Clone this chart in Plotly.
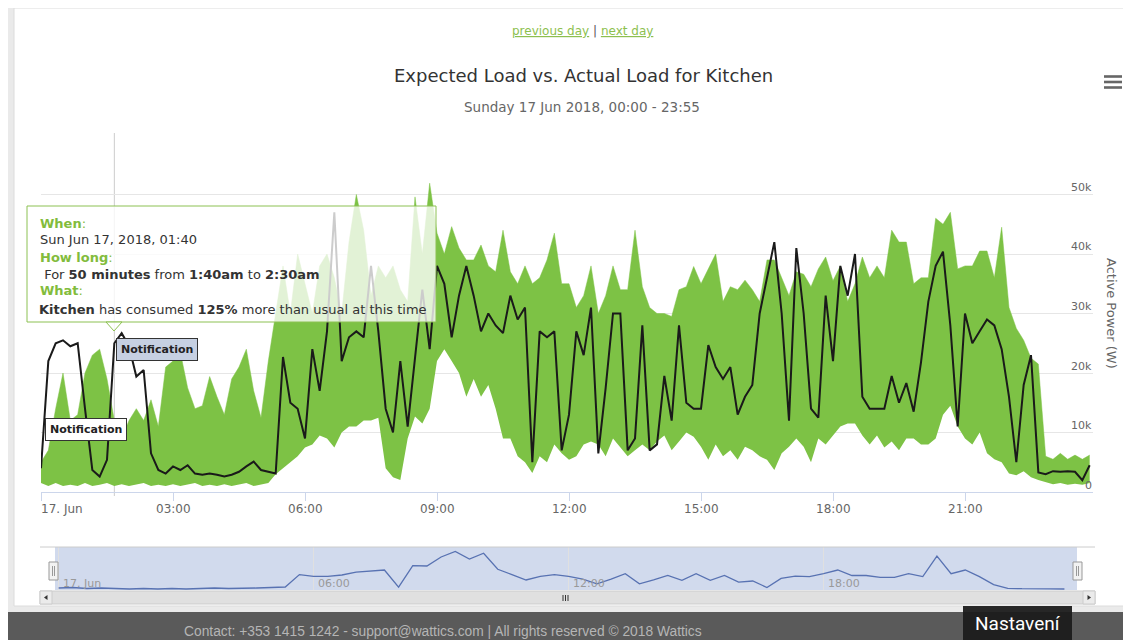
import plotly.graph_objects as go
import pandas as pd

# The page body keeps an 8px margin, so the figure is drawn 8px in from the
# top-left corner of the window; all pixel positions below are window pixels.
OFF = 8
W, H = 1131 - OFF, 640 - OFF

# ---------------- data (kW) ----------------
times = pd.date_range("2018-06-17 00:00", periods=144, freq="10min")

actual_kw = [4, 22, 25, 25.5, 24.5, 25, 14, 3.7, 2.6, 5.4,
             25, 26.7, 24.5, 19.4, 20.5, 6.5, 3.7, 3.1, 4.3, 3.7,
             4.5, 3.1, 2.9, 3.1, 2.9, 2.6, 2.9, 3.4, 4.3, 5.1,
             3.7, 3.4, 3.1, 22.7, 15, 14, 9, 24, 17, 27,
             47, 22, 26, 27, 26, 38, 27, 14, 10, 22,
             11, 22.5, 34, 24, 38, 35, 26, 33, 38, 33,
             27, 30, 28, 26.7, 33, 29, 31, 5, 27, 26,
             27, 7, 13, 27, 23, 31, 6.5, 17.5, 30, 30,
             7, 9, 28, 7, 8, 19.5, 12, 28, 15, 14,
             14, 24.7, 21, 19, 21, 13, 16, 18, 30, 36,
             42, 30, 12, 41, 30, 14, 12.5, 33, 22, 38,
             33, 40, 16, 14, 14, 14, 19.5, 15, 18.3, 13.5,
             21.8, 32, 38, 40.4, 28, 11, 30, 25, 27, 29,
             28, 24, 16, 5, 18, 23, 3.3, 3, 3.5, 3.4,
             3.5, 3.4, 2, 4.5]

expected_high_kw = [5, 7, 14, 20, 12, 13, 20, 23, 24, 19,
                    12, 9, 12, 14, 12, 15.5, 11, 21, 22, 23.5,
                    17.5, 14, 14.5, 19.4, 16, 13, 19, 21, 24, 17,
                    12.5, 22, 30, 38, 30, 40, 35, 30, 38, 40,
                    36, 30, 42, 50, 44, 33, 38, 36, 38, 34,
                    32, 49.6, 40, 51.9, 43.5, 40, 44.6, 41, 39, 39,
                    41.5, 38, 37, 44, 37, 35, 38, 35, 36, 39,
                    43.5, 35, 35, 31, 33, 38, 30, 33, 38, 34,
                    34, 44, 34.5, 31, 30, 30, 29.5, 34, 34.5, 37.9,
                    35, 37.5, 40, 32, 34.5, 34, 35.6, 34, 32, 39,
                    39, 36, 33, 37, 36.6, 34.5, 37.5, 39.5, 35.5, 38,
                    32, 35, 39.5, 36, 38, 36, 44, 42, 42, 35,
                    36, 36, 46, 45, 47, 37.5, 38, 38, 40.5, 40.5,
                    36, 44.5, 31, 27.5, 25.5, 22.5, 21.5, 6, 5.5, 6.5,
                    5.5, 6.2, 5.5, 6.2]

expected_low_kw = [1.5, 1, 1.5, 1, 1.2, 1, 1.5, 1, 1.2, 1.5,
                   1, 1.3, 1, 1.2, 1.5, 1, 1.2, 1, 1.3, 1,
                   1.2, 1.5, 1, 1.2, 1, 1.3, 1, 1.2, 1.5, 1,
                   1.3, 1.5, 3, 4, 5, 6, 7.5, 8, 9.5, 9,
                   7.5, 10, 11, 11, 12, 12, 12.5, 4, 2.5, 2,
                   9, 12.7, 11.5, 14, 22, 24, 22, 20, 16, 19,
                   16, 18, 14, 9, 9, 6, 5, 3.2, 6, 5,
                   8, 6.5, 5.4, 6, 8, 8.5, 8, 6, 9, 7.5,
                   6, 7, 8, 7, 8.5, 9.5, 7, 8.5, 10, 9.3,
                   7.6, 5.4, 8, 6, 7, 5.4, 7.6, 7, 6, 5.4,
                   3.7, 6.5, 7.6, 9, 7.6, 5, 9, 8, 9.5, 11,
                   11.5, 11.5, 9.5, 8, 9.5, 7.5, 8.5, 7, 9, 9,
                   8, 8, 9, 13, 14.5, 11, 9, 8, 10, 6.5,
                   5.5, 5, 3.1, 2.8, 3.5, 2.5, 2, 1.7, 1.3, 1.5,
                   1.2, 1.4, 1.2, 1.5]

nav_times = pd.date_range("2018-06-17 00:00", periods=72, freq="20min")
navigator_values = [1, 1.5, 0.5, 1, 0.5, 0, 0.5, 0, 0.5, 0, 0.5, 1,
                    0.5, 0.5, 1, 1.5, 2, 14.4, 12.6, 12.6, 14, 16.9, 17.9, 19,
                    1.9, 23.3, 23, 32, 37.6, 30, 35.8, 19.7, 14.4, 9, 12.6, 14.4,
                    12.6, 9.8, 5.1, 9.8, 15.3, 5.1, 9.1, 13.5, 8.7, 15.3, 8.7, 13.5,
                    6.9, 8, 1.5, 10.6, 12.8, 12.4, 15.3, 19, 13.5, 13.5, 11.7, 11.7,
                    15.3, 12.4, 32.8, 15.3, 19, 12.4, 4.4, 0.7, 0.3, 0.5, 0.2, 0]

x_tick_hours = [0, 3, 6, 9, 12, 15, 18, 21]
x_tick_labels = ["17. Jun", "03:00", "06:00", "09:00", "12:00", "15:00", "18:00", "21:00"]
y_tick_values = [0, 10, 20, 30, 40, 50]
y_tick_labels = ["0", "10k", "20k", "30k", "40k", "50k"]
nav_tick_hours = [0, 6, 12, 18]
nav_tick_labels = ["17. Jun", "06:00", "12:00", "18:00"]

# ---------------- helpers (window pixels -> paper) ----------------
def pxx(x):
    return (x - OFF) / W

def pyy(y):
    return 1 - (y - OFF) / H

def path(points):
    return "M " + " L ".join(f"{pxx(x):.5f},{pyy(y):.5f}" for x, y in points) + " Z"

GREEN = "#7DC245"
t0 = times[0]
x_end = t0 + pd.Timedelta(minutes=1435)
main_x1 = 41 + 44 * 1435 / 60
nav_lo = t0 - pd.Timedelta(hours=(58.6 - 40) / 42.5)
nav_hi = t0 + pd.Timedelta(hours=(1095 - 58.6) / 42.5)
tick_times = [t0 + pd.Timedelta(hours=h) for h in x_tick_hours]
nav_tick_times = [t0 + pd.Timedelta(hours=h) for h in nav_tick_hours]

fig = go.Figure()
fig.add_trace(go.Scatter(x=times, y=expected_low_kw, mode="lines",
                         line=dict(width=0, color=GREEN), hoverinfo="skip"))
fig.add_trace(go.Scatter(x=times, y=expected_high_kw, mode="lines",
                         line=dict(width=0.5, color=GREEN), fill="tonexty",
                         fillcolor=GREEN, hoverinfo="skip"))
fig.add_trace(go.Scatter(x=times, y=actual_kw, mode="lines",
                         line=dict(width=2, color="#1a1a1a"), hoverinfo="skip"))
fig.add_trace(go.Scatter(x=nav_times, y=navigator_values, mode="lines",
                         xaxis="x2", yaxis="y2",
                         line=dict(width=1.3, color="#5872b2"), hoverinfo="skip"))

shapes = []
# page card
shapes.append(dict(type="rect", xref="paper", yref="paper", x0=pxx(14), x1=1.0,
                   y0=pyy(606), y1=1.0, fillcolor="white",
                   line=dict(color="#dcdcdc", width=1), layer="below"))
# footer
shapes.append(dict(type="rect", xref="paper", yref="paper", x0=0, x1=1,
                   y0=0, y1=pyy(612), fillcolor="#5a5a5a", line=dict(width=0), layer="below"))
# navigator mask
shapes.append(dict(type="rect", xref="paper", yref="paper", x0=pxx(55), x1=pxx(1077),
                   y0=pyy(590), y1=pyy(547), fillcolor="rgba(102,133,194,0.3)",
                   line=dict(width=0), layer="below"))
shapes.append(dict(type="line", xref="paper", yref="paper", x0=pxx(40), x1=pxx(1095),
                   y0=pyy(547), y1=pyy(547), line=dict(color="#cccccc", width=1)))
# scrollbar
shapes.append(dict(type="rect", xref="paper", yref="paper", x0=pxx(40), x1=pxx(1095),
                   y0=pyy(604), y1=pyy(591), fillcolor="#e0e0e0",
                   line=dict(color="#cccccc", width=1), layer="below"))
for bx0, bx1 in [(40, 52), (1083, 1095)]:
    shapes.append(dict(type="rect", xref="paper", yref="paper", x0=pxx(bx0), x1=pxx(bx1),
                       y0=pyy(604), y1=pyy(591), fillcolor="#ebebeb",
                       line=dict(color="#cccccc", width=1)))
shapes.append(dict(type="path", xref="paper", yref="paper",
                   path=path([(47.5, 595), (44, 597.5), (47.5, 600)]),
                   fillcolor="#333", line=dict(width=0)))
shapes.append(dict(type="path", xref="paper", yref="paper",
                   path=path([(1087.5, 595), (1091, 597.5), (1087.5, 600)]),
                   fillcolor="#333", line=dict(width=0)))
for gx in [563, 565.5, 568]:
    shapes.append(dict(type="line", xref="paper", yref="paper", x0=pxx(gx), x1=pxx(gx),
                       y0=pyy(601), y1=pyy(595), line=dict(color="#333", width=1)))
# navigator handles
for hx0, hx1 in [(49, 58), (1073, 1082)]:
    shapes.append(dict(type="rect", xref="paper", yref="paper", x0=pxx(hx0), x1=pxx(hx1),
                       y0=pyy(580), y1=pyy(562), fillcolor="#f2f2f2",
                       line=dict(color="#999999", width=1)))
    for lx in [hx0 + 3.5, hx0 + 5.5]:
        shapes.append(dict(type="line", xref="paper", yref="paper", x0=pxx(lx), x1=pxx(lx),
                           y0=pyy(576), y1=pyy(566), line=dict(color="#999999", width=1)))
# crosshair at 01:40
cross_t = t0 + pd.Timedelta(minutes=100)
shapes.append(dict(type="line", xref="x", yref="paper", x0=cross_t, x1=cross_t,
                   y0=pyy(496), y1=pyy(133), line=dict(color="#cccccc", width=1), layer="below"))
# tooltip
shapes.append(dict(type="rect", xref="paper", yref="paper", x0=pxx(27), x1=pxx(436),
                   y0=pyy(322), y1=pyy(206), fillcolor="rgba(255,255,255,0.78)",
                   line=dict(color="#8cc152", width=1), layer="above"))
shapes.append(dict(type="path", xref="paper", yref="paper",
                   path=path([(106, 322), (114, 331), (122, 322)]),
                   fillcolor="rgba(255,255,255,0.78)", line=dict(color="#8cc152", width=1),
                   layer="above"))
# hamburger menu
for by in [76.5, 82, 87.5]:
    shapes.append(dict(type="rect", xref="paper", yref="paper", x0=pxx(1104), x1=pxx(1122),
                       y0=pyy(by + 1.3), y1=pyy(by - 1.3), fillcolor="#666666",
                       line=dict(width=0)))
# overlay box
shapes.append(dict(type="rect", xref="paper", yref="paper", x0=pxx(963), x1=pxx(1072),
                   y0=0, y1=pyy(606), fillcolor="rgba(28,28,28,0.95)", line=dict(width=0)))

ann = []

def text(x, y, s, size=12, color="#333", xanchor="center", family="DejaVu Sans", **kw):
    d = dict(x=pxx(x), y=pyy(y), xref="paper", yref="paper", text=s, showarrow=False,
             xanchor=xanchor, yanchor="middle",
             font=dict(size=size, color=color, family=family))
    d.update(kw)
    ann.append(d)

LINK = "#8dbf4f"
text(582, 31, f'<span style="color:{LINK}"><u>previous day</u></span>'
              f'<span style="color:#555"> | </span>'
              f'<span style="color:{LINK}"><u>next day</u></span>', size=12)
text(583, 75, "Expected Load vs. Actual Load for Kitchen", size=18, color="#333")
text(582, 107, "Sunday 17 Jun 2018, 00:00 - 23:55", size=13.5, color="#666")

# y labels (right side, above gridlines)
for v, lab in zip(y_tick_values, y_tick_labels):
    ann.append(dict(x=pxx(1094), y=v, xref="paper", yref="y", text=lab, showarrow=False,
                    xanchor="right", yanchor="middle", yshift=7,
                    font=dict(size=11, color="#666", family="DejaVu Sans")))
text(1112, 313, "Active Power (W)", size=13, color="#666", textangle=90)

# x labels
for i, (tt, lab) in enumerate(zip(tick_times, x_tick_labels)):
    ann.append(dict(x=tt, y=pyy(509), xref="x", yref="paper", text=lab, showarrow=False,
                    xanchor="left" if i == 0 else "center", yanchor="middle",
                    xshift=-2 if i == 0 else 0,
                    font=dict(size=12, color="#666", family="DejaVu Sans")))

# tooltip text
TG = "#82bc3c"
text(38, 223, "<b>When</b>:", size=13, color=TG, xanchor="left")
text(38, 240, "Sun Jun 17, 2018, 01:40", size=13, color="#333", xanchor="left")
text(38, 257, "<b>How long</b>:", size=13, color=TG, xanchor="left")
text(38, 274, "&nbsp;For <b>50 minutes</b> from <b>1:40am</b> to <b>2:30am</b>", size=13,
     color="#333", xanchor="left")
text(38, 291, "<b>What</b>:", size=13, color=TG, xanchor="left")
text(37, 309, "<b>Kitchen</b> has consumed <b>125%</b> more than usual at this time", size=13,
     color="#333", xanchor="left")

# flags
text(86, 429, "<b>Notification</b>", size=11, color="#222", bgcolor="white",
     bordercolor="#333", borderwidth=1, borderpad=4)
text(156.5, 349, "<b>Notification</b>", size=11, color="#222", bgcolor="#c6d0e2",
     bordercolor="#333", borderwidth=1, borderpad=4)

# navigator labels
for tt, lab in zip(nav_tick_times, nav_tick_labels):
    ann.append(dict(x=tt, y=pyy(583), xref="x2", yref="paper", text=lab, showarrow=False,
                    xanchor="left", yanchor="middle", xshift=2,
                    font=dict(size=11, color="#999", family="DejaVu Sans")))

# footer
text(443, 631, "Contact: +353 1415 1242 - support@wattics.com | All rights reserved © 2018 Wattics",
     size=13.8, color="#b5b5b5", family="Liberation Sans")
text(1017.5, 623, "Nastavení", size=19, color="white", family="Roboto")

fig.update_layout(
    width=W, height=H, margin=dict(l=0, r=0, t=0, b=0),
    paper_bgcolor="#eaeaea", plot_bgcolor="rgba(0,0,0,0)",
    showlegend=False, hovermode=False,
    font=dict(family="DejaVu Sans", color="#333"),
    xaxis=dict(domain=[pxx(41), pxx(main_x1)], range=[t0, x_end], type="date",
               showgrid=False, zeroline=False, showline=True, linecolor="#ccd6eb",
               linewidth=1, ticks="outside", ticklen=8, tickcolor="#ccd6eb",
               tickvals=tick_times, showticklabels=False, anchor="y", fixedrange=True),
    yaxis=dict(domain=[pyy(492), pyy(135)], range=[0, 60], showgrid=True,
               gridcolor="#e6e6e6", gridwidth=1, tickvals=y_tick_values + [60],
               showticklabels=False, zeroline=False, anchor="x", fixedrange=True),
    xaxis2=dict(domain=[pxx(40), pxx(1095)], range=[nav_lo, nav_hi], type="date",
                anchor="y2", showgrid=True, gridcolor="#e0e0e0", tickvals=nav_tick_times,
                showticklabels=False, zeroline=False, showline=False, ticks=""),
    yaxis2=dict(domain=[pyy(590), pyy(547)], range=[-1, 42], anchor="x2",
                showgrid=False, showticklabels=False, zeroline=False),
    shapes=shapes, annotations=ann,
)

fig.write_html("out.html")
